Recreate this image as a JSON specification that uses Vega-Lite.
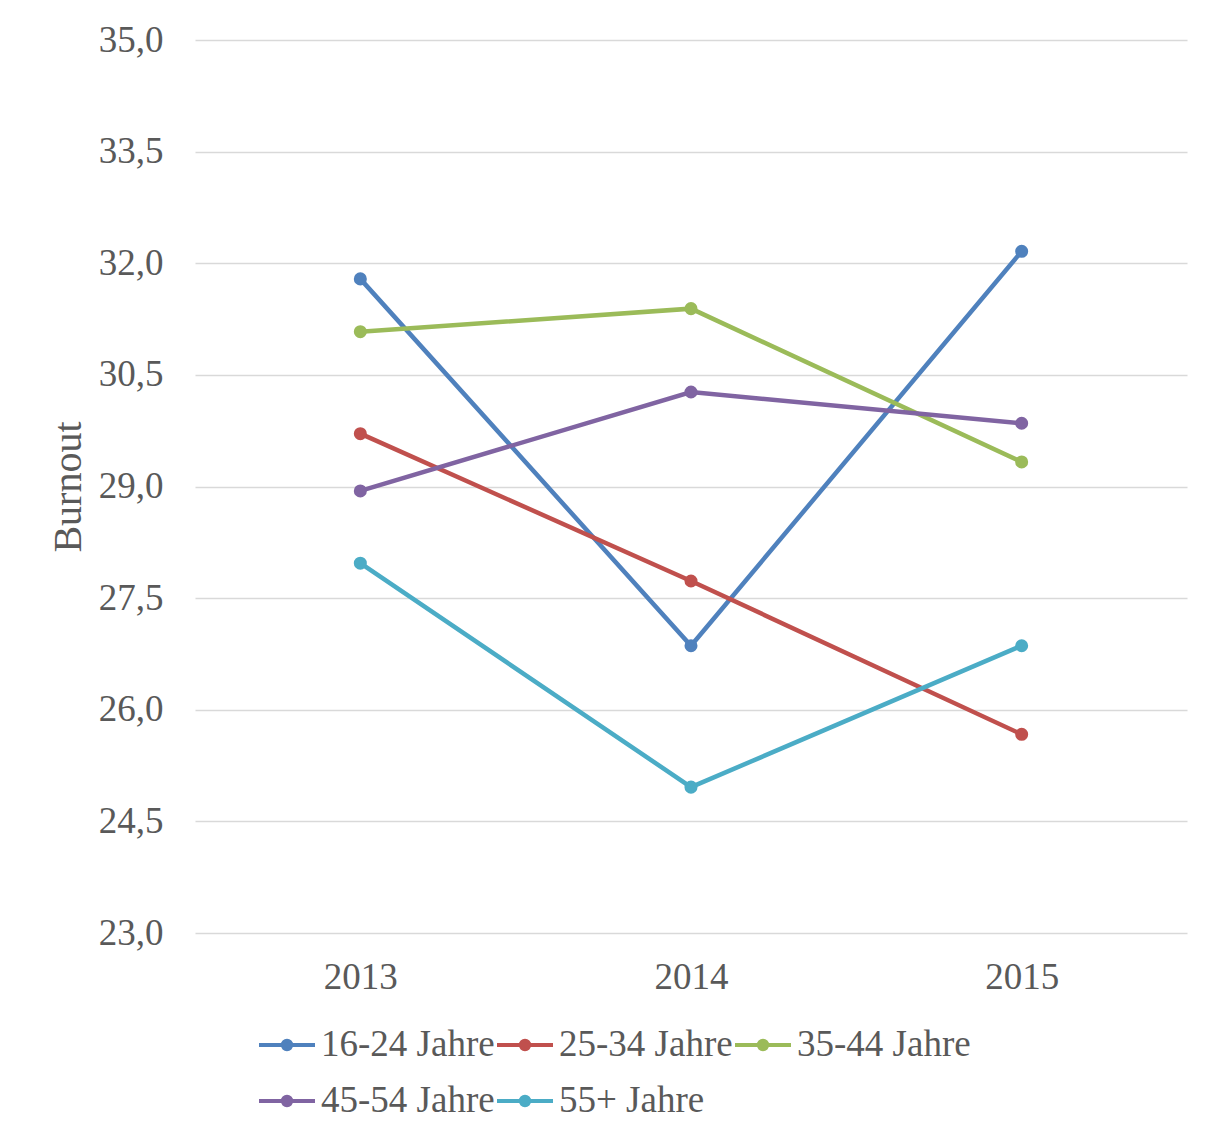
{
  "$schema": "https://vega.github.io/schema/vega-lite/v6.json",
  "width": 992,
  "height": 893,
  "autosize": "none",
  "padding": {"left": 195, "top": 40, "right": 25, "bottom": 200},
  "background": "white",
  "config": {
    "view": {"stroke": null},
    "font": "Liberation Serif"
  },
  "data": {
    "values": [
      {"year": "2013", "group": "16-24 Jahre", "burnout": 31.79},
      {"year": "2014", "group": "16-24 Jahre", "burnout": 26.86},
      {"year": "2015", "group": "16-24 Jahre", "burnout": 32.16},
      {"year": "2013", "group": "25-34 Jahre", "burnout": 29.71},
      {"year": "2014", "group": "25-34 Jahre", "burnout": 27.73},
      {"year": "2015", "group": "25-34 Jahre", "burnout": 25.67},
      {"year": "2013", "group": "35-44 Jahre", "burnout": 31.08},
      {"year": "2014", "group": "35-44 Jahre", "burnout": 31.39},
      {"year": "2015", "group": "35-44 Jahre", "burnout": 29.33},
      {"year": "2013", "group": "45-54 Jahre", "burnout": 28.94},
      {"year": "2014", "group": "45-54 Jahre", "burnout": 30.27},
      {"year": "2015", "group": "45-54 Jahre", "burnout": 29.85},
      {"year": "2013", "group": "55+ Jahre", "burnout": 27.97},
      {"year": "2014", "group": "55+ Jahre", "burnout": 24.96},
      {"year": "2015", "group": "55+ Jahre", "burnout": 26.86}
    ]
  },
  "mark": {"type": "line", "strokeWidth": 4.5, "point": {"filled": true, "size": 170}},
  "encoding": {
    "x": {
      "field": "year",
      "type": "ordinal",
      "scale": {"type": "point", "padding": 0.5},
      "axis": {
        "title": null,
        "labelAngle": 0,
        "labelFont": "Liberation Serif",
        "labelFontSize": 37,
        "labelColor": "#595959",
        "labelPadding": 26,
        "ticks": false,
        "domain": false,
        "grid": false
      }
    },
    "y": {
      "field": "burnout",
      "type": "quantitative",
      "scale": {"domain": [23, 35], "nice": false, "zero": false},
      "axis": {
        "title": "Burnout",
        "titleFont": "Liberation Serif",
        "titleFontSize": 40,
        "titleFontWeight": "normal",
        "titleColor": "#595959",
        "titlePadding": 10,
        "values": [23, 24.5, 26, 27.5, 29, 30.5, 32, 33.5, 35],
        "labelExpr": "replace(format(datum.value, '.1f'), '.', ',')",
        "labelFont": "Liberation Serif",
        "labelFontSize": 37,
        "labelColor": "#595959",
        "labelPadding": 32,
        "ticks": false,
        "domain": false,
        "grid": true,
        "gridColor": "#d9d9d9",
        "gridWidth": 1.5
      }
    },
    "color": {
      "field": "group",
      "type": "nominal",
      "scale": {
        "domain": ["16-24 Jahre", "25-34 Jahre", "35-44 Jahre", "45-54 Jahre", "55+ Jahre"],
        "range": ["#4F81BD", "#C0504D", "#9BBB59", "#8064A2", "#4BACC6"]
      },
      "legend": {
        "title": null,
        "orient": "none",
        "legendX": 62,
        "legendY": 975,
        "direction": "horizontal",
        "columns": 3,
        "columnPadding": -11,
        "rowPadding": 8,
        "symbolType": "M-1,0H1M-0.15,0A0.15,0.15 0 1,1 0.15,0A0.15,0.15 0 1,1 -0.15,0",
        "symbolSize": 3136,
        "symbolStrokeWidth": 4,
        "labelFont": "Liberation Serif",
        "labelFontSize": 37,
        "labelColor": "#595959",
        "labelOffset": 4,
        "labelLimit": 400
      }
    }
  }
}
